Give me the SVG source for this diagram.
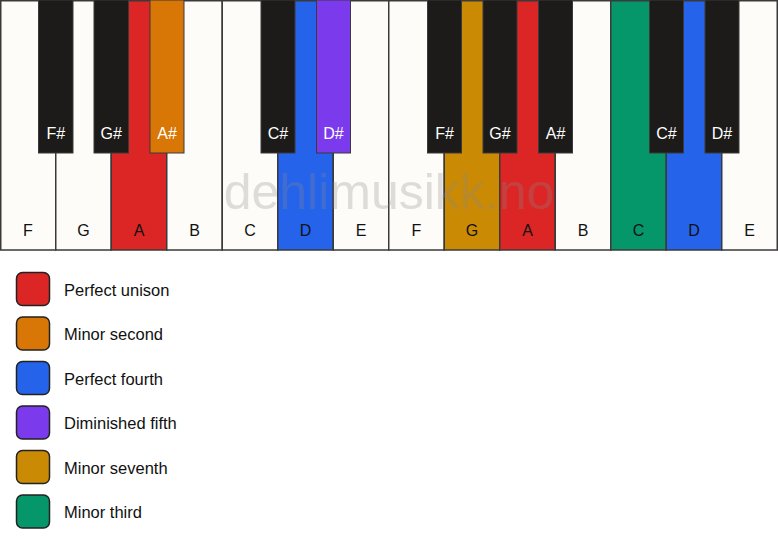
<svg xmlns="http://www.w3.org/2000/svg" width="778" height="550" viewBox="0 0 778 550">
<style>
.w{fill:#fdfcf8;stroke:#3a3a3a;stroke-width:1.5}
.b{fill:#1c1b19;stroke:#3a3a3a;stroke-width:1}
.wl{font-family:"Liberation Sans",Arial,sans-serif;font-size:16px;fill:#111;text-anchor:middle}
.bl{font-family:"Liberation Sans",Arial,sans-serif;font-size:16px;fill:#fff;text-anchor:middle}
.lg{stroke:#222;stroke-width:1.5}
.lt{font-family:"Liberation Sans",Arial,sans-serif;font-size:16.5px;fill:#111}
.wm{font-family:"Liberation Sans",Arial,sans-serif;font-size:50px;fill:#888;opacity:0.27;text-anchor:middle}
</style>
<rect width="778" height="550" fill="#ffffff"/>
<g id="white-keys">
<g id="w-F1"><rect class="w" x="0.75" y="0.75" width="55" height="249.25"/><text class="wl" x="28" y="236">F</text></g>
<g id="w-G1"><rect class="w" x="55.75" y="0.75" width="55.5" height="249.25"/><text class="wl" x="83.5" y="236">G</text></g>
<g id="w-A1"><rect class="w" x="111.25" y="0.75" width="55.5" height="249.25" style="fill:#dc2626"/><text class="wl" x="139" y="236">A</text></g>
<g id="w-B1"><rect class="w" x="166.75" y="0.75" width="55.5" height="249.25"/><text class="wl" x="194.5" y="236">B</text></g>
<g id="w-C1"><rect class="w" x="222.25" y="0.75" width="55.5" height="249.25"/><text class="wl" x="250" y="236">C</text></g>
<g id="w-D1"><rect class="w" x="277.75" y="0.75" width="55.5" height="249.25" style="fill:#2563eb"/><text class="wl" x="305.5" y="236">D</text></g>
<g id="w-E1"><rect class="w" x="333.25" y="0.75" width="55.5" height="249.25"/><text class="wl" x="361" y="236">E</text></g>
<g id="w-F2"><rect class="w" x="388.75" y="0.75" width="55.5" height="249.25"/><text class="wl" x="416.5" y="236">F</text></g>
<g id="w-G2"><rect class="w" x="444.25" y="0.75" width="55.5" height="249.25" style="fill:#ca8a04"/><text class="wl" x="472" y="236">G</text></g>
<g id="w-A2"><rect class="w" x="499.75" y="0.75" width="55.5" height="249.25" style="fill:#dc2626"/><text class="wl" x="527.5" y="236">A</text></g>
<g id="w-B2"><rect class="w" x="555.25" y="0.75" width="55.5" height="249.25"/><text class="wl" x="583" y="236">B</text></g>
<g id="w-C2"><rect class="w" x="610.75" y="0.75" width="55.5" height="249.25" style="fill:#059669"/><text class="wl" x="638.5" y="236">C</text></g>
<g id="w-D2"><rect class="w" x="666.25" y="0.75" width="55.5" height="249.25" style="fill:#2563eb"/><text class="wl" x="694" y="236">D</text></g>
<g id="w-E2"><rect class="w" x="721.75" y="0.75" width="55.5" height="249.25"/><text class="wl" x="749.5" y="236">E</text></g>
</g>
<text class="wm" x="389" y="209">dehlimusikk.no</text>
<g id="black-keys">
<g id="b-Fs1"><rect class="b" x="38.5" y="0" width="34.5" height="153"/><text class="bl" x="55.75" y="138.5">F#</text></g>
<g id="b-Gs1"><rect class="b" x="94" y="0" width="34.5" height="153"/><text class="bl" x="111.25" y="138.5">G#</text></g>
<g id="b-As1"><rect class="b" x="150" y="0" width="34" height="153" style="fill:#d97706"/><text class="bl" x="167" y="138.5">A#</text></g>
<g id="b-Cs1"><rect class="b" x="261" y="0" width="34" height="153"/><text class="bl" x="278" y="138.5">C#</text></g>
<g id="b-Ds1"><rect class="b" x="316.5" y="0" width="34" height="153" style="fill:#7c3aed"/><text class="bl" x="333.5" y="138.5">D#</text></g>
<g id="b-Fs2"><rect class="b" x="427.5" y="0" width="34" height="153"/><text class="bl" x="444.5" y="138.5">F#</text></g>
<g id="b-Gs2"><rect class="b" x="483" y="0" width="34" height="153"/><text class="bl" x="500" y="138.5">G#</text></g>
<g id="b-As2"><rect class="b" x="538.5" y="0" width="34" height="153"/><text class="bl" x="555.5" y="138.5">A#</text></g>
<g id="b-Cs2"><rect class="b" x="649.5" y="0" width="34" height="153"/><text class="bl" x="666.5" y="138.5">C#</text></g>
<g id="b-Ds2"><rect class="b" x="705" y="0" width="34" height="153"/><text class="bl" x="722" y="138.5">D#</text></g>
</g>
<g id="legend">
<g id="lg-unison"><rect class="lg" x="16.5" y="272.5" width="33" height="33" rx="6" fill="#dc2626"/><text class="lt" x="64" y="295.5">Perfect unison</text></g>
<g id="lg-m2"><rect class="lg" x="16.5" y="317" width="33" height="33" rx="6" fill="#d97706"/><text class="lt" x="64" y="340">Minor second</text></g>
<g id="lg-p4"><rect class="lg" x="16.5" y="361.5" width="33" height="33" rx="6" fill="#2563eb"/><text class="lt" x="64" y="384.5">Perfect fourth</text></g>
<g id="lg-d5"><rect class="lg" x="16.5" y="406" width="33" height="33" rx="6" fill="#7c3aed"/><text class="lt" x="64" y="429">Diminished fifth</text></g>
<g id="lg-m7"><rect class="lg" x="16.5" y="450.5" width="33" height="33" rx="6" fill="#ca8a04"/><text class="lt" x="64" y="473.5">Minor seventh</text></g>
<g id="lg-m3"><rect class="lg" x="16.5" y="495" width="33" height="33" rx="6" fill="#059669"/><text class="lt" x="64" y="518">Minor third</text></g>
</g>
<g id="connectors"></g>
</svg>
